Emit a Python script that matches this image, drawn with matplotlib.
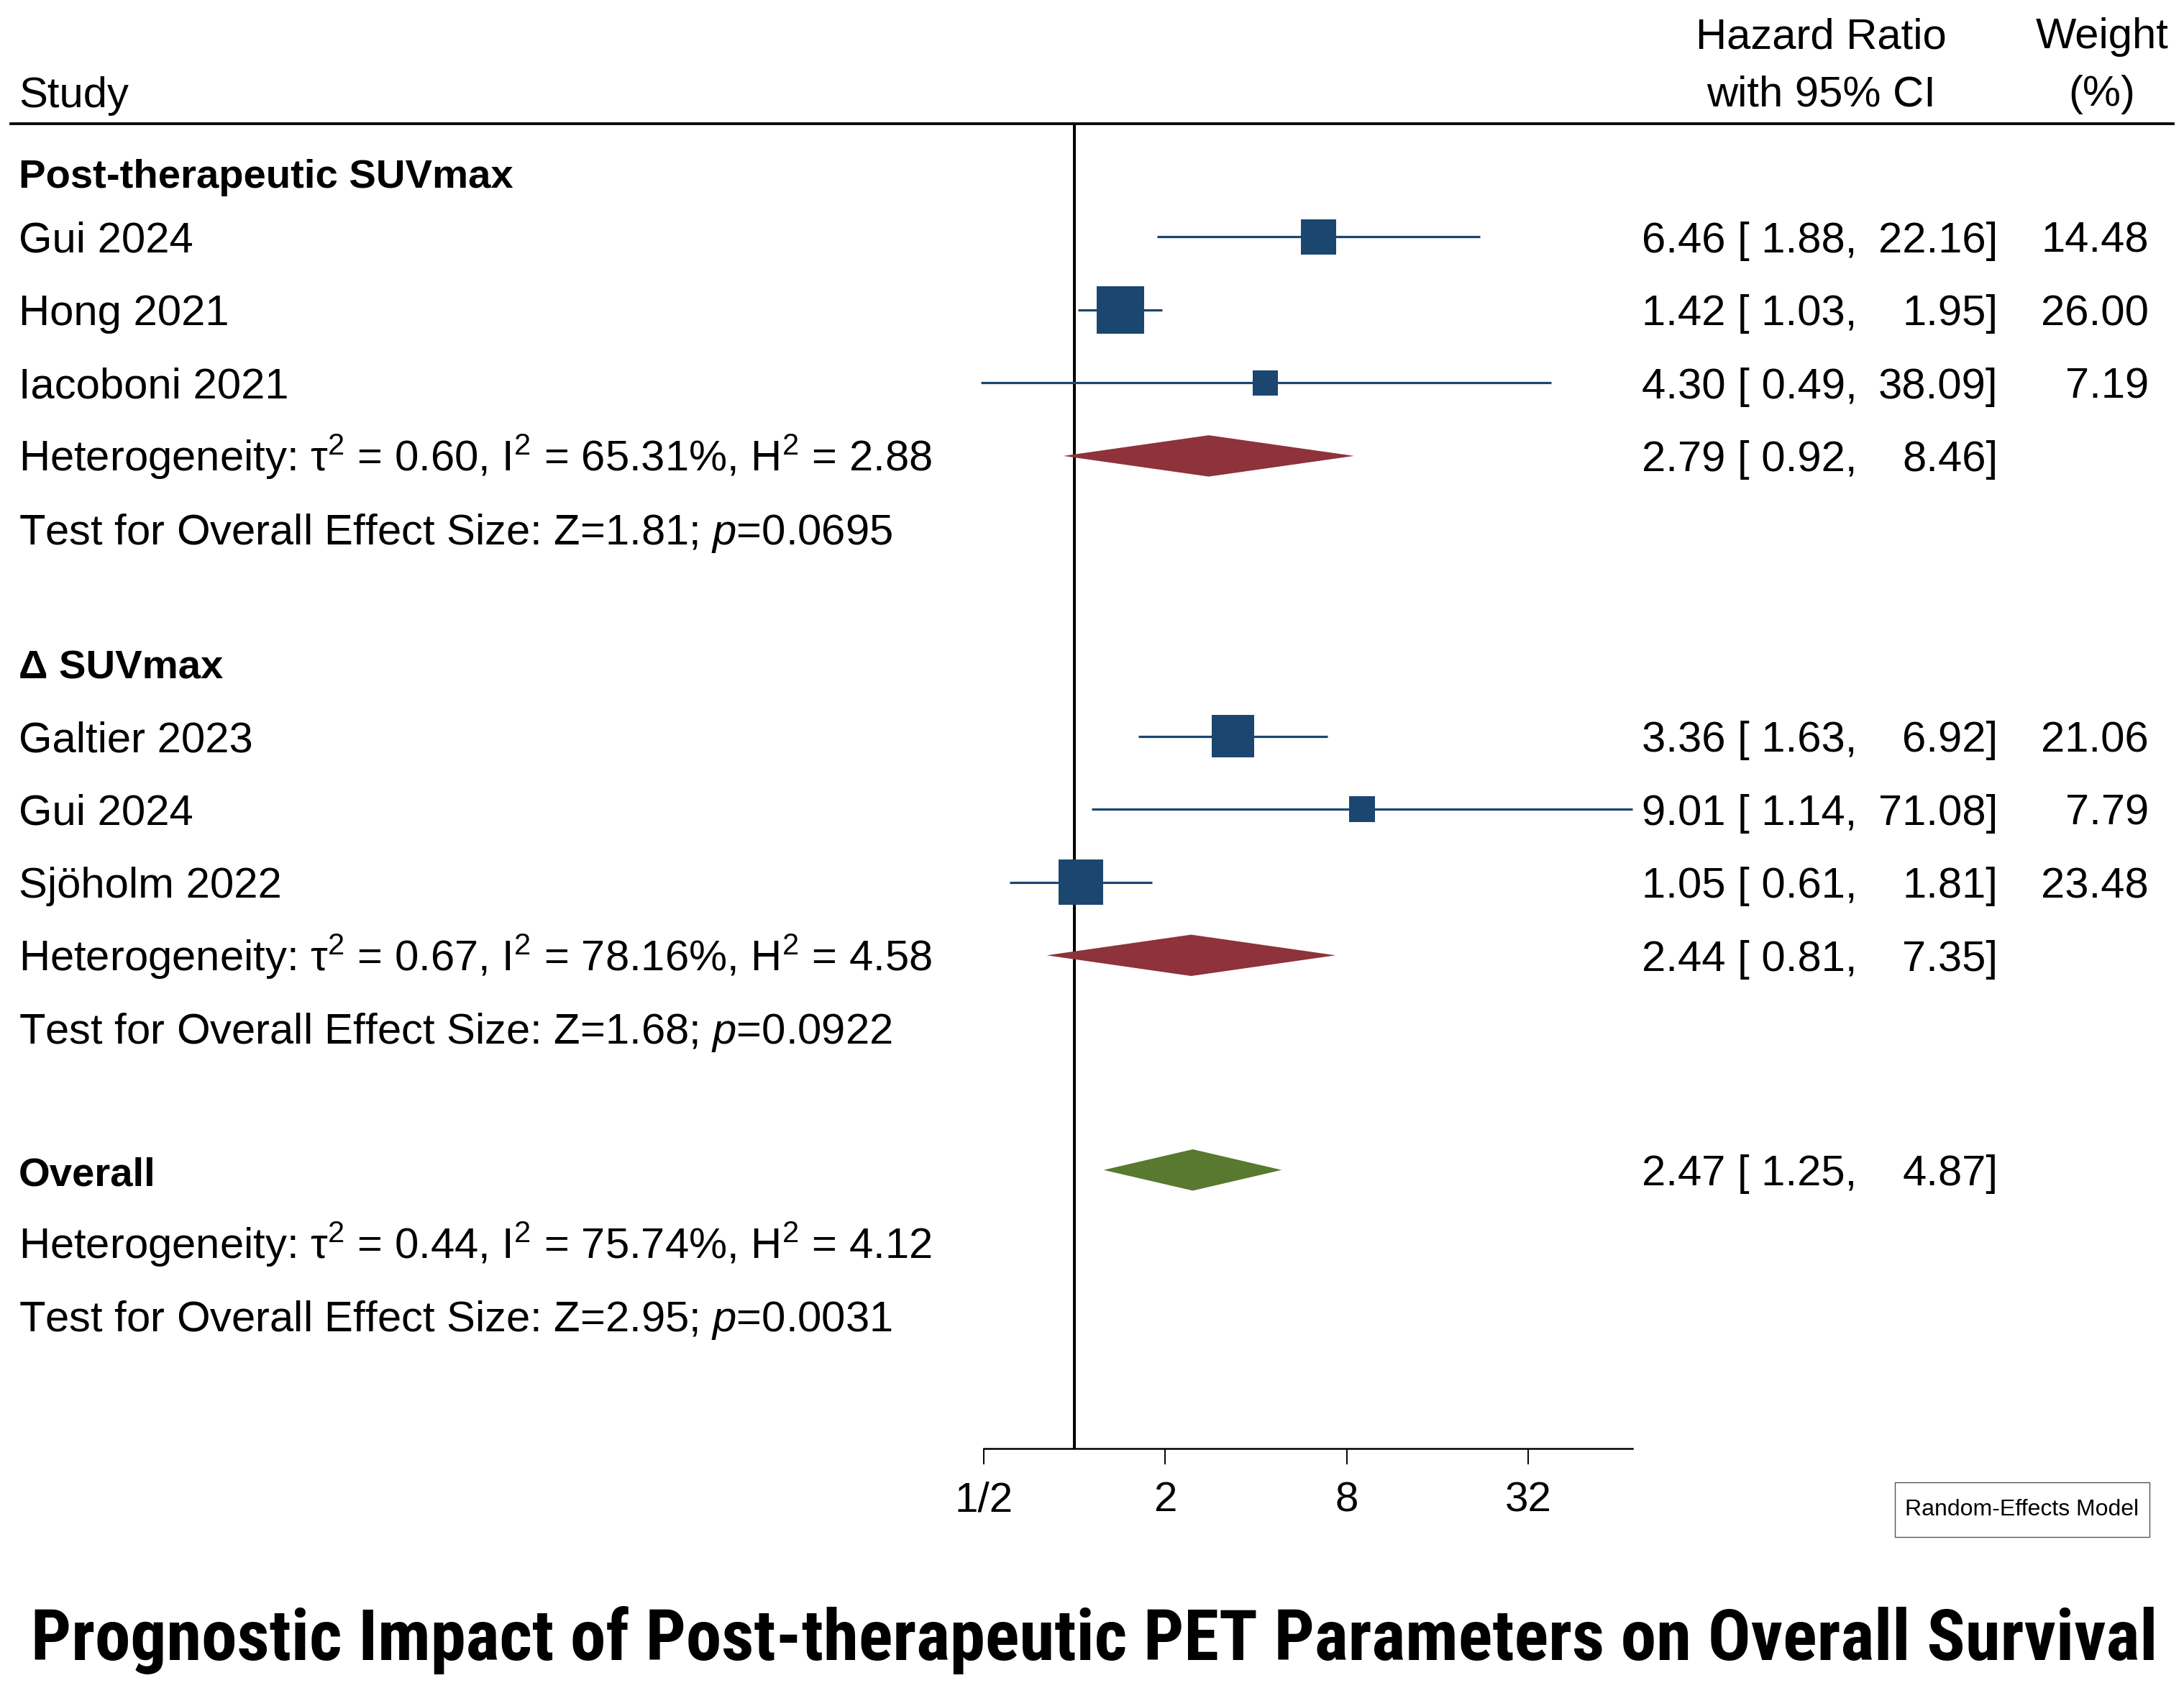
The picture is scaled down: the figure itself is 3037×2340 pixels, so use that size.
import numpy as np
import matplotlib
matplotlib.use("Agg")
import matplotlib.pyplot as plt
import matplotlib.transforms as mtransforms
from matplotlib import font_manager
from matplotlib.patches import Polygon, Rectangle
from matplotlib.lines import Line2D

plt.rcParams["font.family"] = ["Liberation Sans", "DejaVu Sans"]
plt.rcParams["mathtext.fontset"] = "custom"
plt.rcParams["mathtext.rm"] = "Liberation Sans"
plt.rcParams["mathtext.it"] = "Liberation Sans:italic"
plt.rcParams["mathtext.bf"] = "Liberation Sans:bold"
plt.rcParams["mathtext.default"] = "regular"

# Data
group_names = ["Post-therapeutic SUVmax", "Δ SUVmax"]

g1_studies = ["Gui 2024", "Hong 2021", "Iacoboni 2021"]
g1_hr = [6.46, 1.42, 4.30]
g1_lo = [1.88, 1.03, 0.49]
g1_hi = [22.16, 1.95, 38.09]
g1_weight = [14.48, 26.00, 7.19]

g2_studies = ["Galtier 2023", "Gui 2024", "Sjöholm 2022"]
g2_hr = [3.36, 9.01, 1.05]
g2_lo = [1.63, 1.14, 0.61]
g2_hi = [6.92, 71.08, 1.81]
g2_weight = [21.06, 7.79, 23.48]

# subgroup and overall pooled estimates: hr, lo, hi
pooled_hr = [2.79, 2.44, 2.47]
pooled_lo = [0.92, 0.81, 1.25]
pooled_hi = [8.46, 7.35, 4.87]

# heterogeneity stats: tau2, I2, H2, Z, p
het_tau2 = [0.60, 0.67, 0.44]
het_i2 = [65.31, 78.16, 75.74]
het_h2 = [2.88, 4.58, 4.12]
test_z = ["1.81", "1.68", "2.95"]
test_p = ["0.0695", "0.0922", "0.0031"]

tick_vals = [0.5, 2, 8, 32]
tick_labels = ["1/2", "2", "8", "32"]

TITLE = "Prognostic Impact of Post-therapeutic PET Parameters on Overall Survival"

# Layout (row positions, top to bottom)
header_rows = [-0.88, 5.84]
study_rows = [[0, 1, 2], [6.84, 7.84, 8.84]]
het_rows = [3, 9.84, 13.78]
test_rows = [4, 10.84, 14.78]
overall_row = 12.78
diamond_rows = [3, 9.84, 12.78]

SQUARE_COLOR = "#1B4670"
DIAMOND_COLORS = ["#8E323B", "#8E323B", "#58792F"]
FS = 43
FS_BOLD = 40.5
X_LEFT = 0.0085

W, H = 3037, 2340
fig = plt.figure(figsize=(W / 100, H / 100), dpi=100)

ax_left, ax_right = 1367.8 / W, 2270.3 / W
ax_bottom, ax_top = 1 - 2013.5 / H, 1 - 172 / H
ax = fig.add_axes([ax_left, ax_bottom, ax_right - ax_left, ax_top - ax_bottom])
ax.set_xscale("log", base=2)
ax.set_xlim(0.5, max(g2_hi + g1_hi))
ax.set_ylim(16.59, -1.55)

for s in ["top", "right", "left"]:
    ax.spines[s].set_visible(False)
ax.spines["bottom"].set_linewidth(1.8)
ax.set_yticks([])
ax.set_xticks(tick_vals)
ax.set_xticklabels(tick_labels, fontsize=42)
ax.minorticks_off()
ax.tick_params(axis="x", direction="out", length=16, width=1.4, pad=17)

# null line
ax.axvline(1, color="black", lw=2.9, zorder=1)

# study rows
size_k = (66 / 1.389) ** 2 / 26.0
blend = mtransforms.blended_transform_factory(fig.transFigure, ax.transData)
cap_off = 0.21

groups = [
    (g1_studies, g1_hr, g1_lo, g1_hi, g1_weight),
    (g2_studies, g2_hr, g2_lo, g2_hi, g2_weight),
]
for gi, (names, hr, lo, hi, wt) in enumerate(groups):
    rows = study_rows[gi]
    ax.hlines(rows, lo, hi, color=SQUARE_COLOR, lw=2.3, zorder=2, clip_on=False)
    ax.scatter(hr, rows, marker="s", s=[size_k * w for w in wt],
               color=SQUARE_COLOR, linewidths=0, zorder=3, clip_on=False)
    fig.text(X_LEFT, header_rows[gi] + cap_off, group_names[gi], transform=blend,
             fontsize=FS_BOLD, fontweight="bold", va="baseline", ha="left")
    for r, n, h, l, u, w in zip(rows, names, hr, lo, hi, wt):
        fig.text(X_LEFT, r + cap_off, n, transform=blend, fontsize=FS,
                 va="baseline", ha="left")
        fig.text(0.7518, r + cap_off, f"{h:.2f} [ {l:.2f},", transform=blend,
                 fontsize=FS, va="baseline", ha="left")
        fig.text(0.9148, r + cap_off, f"{u:.2f}]", transform=blend,
                 fontsize=FS, va="baseline", ha="right")
        fig.text(0.9838, r + cap_off, f"{w:.2f}", transform=blend,
                 fontsize=FS, va="baseline", ha="right")

# pooled diamonds
dh = 0.283
for k in range(3):
    y = diamond_rows[k]
    l, e, u = pooled_lo[k], pooled_hr[k], pooled_hi[k]
    poly = Polygon([(l, y), (e, y - dh), (u, y), (e, y + dh)], closed=True,
                   facecolor=DIAMOND_COLORS[k], edgecolor="none", zorder=3,
                   clip_on=False)
    ax.add_patch(poly)
    fig.text(0.7518, y + cap_off, f"{e:.2f} [ {l:.2f},", transform=blend,
             fontsize=FS, va="baseline", ha="left")
    fig.text(0.9148, y + cap_off, f"{u:.2f}]", transform=blend,
             fontsize=FS, va="baseline", ha="right")

fig.text(X_LEFT, overall_row + cap_off, "Overall", transform=blend,
         fontsize=FS_BOLD, fontweight="bold", va="baseline", ha="left")

for k in range(3):
    het = (f"Heterogeneity: τ$^{{2}}$ = {het_tau2[k]:.2f}, I$^{{2}}$ = "
           f"{het_i2[k]:.2f}%, H$^{{2}}$ = {het_h2[k]:.2f}")
    fig.text(X_LEFT, het_rows[k] + cap_off, het, transform=blend,
             fontsize=FS, va="baseline", ha="left")
    test = f"Test for Overall Effect Size: Z={test_z[k]}; $\\mathit{{p}}$={test_p[k]}"
    fig.text(X_LEFT, test_rows[k] + cap_off, test, transform=blend,
             fontsize=FS, va="baseline", ha="left")

# column headers
def yb(center_px):
    return 1 - (center_px + 21) / H

fig.text(X_LEFT, yb(128), "Study", fontsize=FS, va="baseline", ha="left")
fig.text(0.834, yb(46), "Hazard Ratio", fontsize=FS, va="baseline", ha="center")
fig.text(0.834, yb(126), "with 95% CI", fontsize=FS, va="baseline", ha="center")
fig.text(0.9625, yb(46), "Weight", fontsize=FS, va="baseline", ha="center")
fig.text(0.9625, yb(126), "(%)", fontsize=FS, va="baseline", ha="center")
fig.add_artist(Line2D([0.005, 0.995], [ax_top, ax_top], transform=fig.transFigure,
                      color="black", lw=2.7))

# model box
fig.add_artist(Rectangle((2635 / W, 1 - 2137 / H), 354 / W, 76 / H,
                         transform=fig.transFigure, facecolor="white",
                         edgecolor="#555555", lw=1.0))
fig.text(2812 / W, 1 - 2099 / H, "Random-Effects Model", fontsize=23,
         va="center", ha="center")

# title: pick the bold narrow face whose width at 72pt is closest to the reference
TITLE_W = 2960
renderer = fig.canvas.get_renderer()
title = fig.text(0.501, 1 - 2308 / H, TITLE, va="baseline", ha="center")
best_font, best_d = None, None
for f in font_manager.fontManager.ttflist:
    nm = f.name.lower()
    if not ("narrow" in nm or "condensed" in nm or "condensed" in str(f.stretch)):
        continue
    if f.weight not in ("bold", 700) or f.style != "normal":
        continue
    fp = font_manager.FontProperties(fname=f.fname, size=72)
    title.set_fontproperties(fp)
    d = abs(title.get_window_extent(renderer).width - TITLE_W)
    if best_d is None or d < best_d:
        best_font, best_d = fp, d
if best_font is None:
    best_font = font_manager.FontProperties(family=["Liberation Sans"], weight="bold", size=72)
title.set_fontproperties(best_font)
tw = title.get_window_extent(renderer).width
title.set_fontsize(72 * TITLE_W / tw)

fig.savefig("out.png", dpi=100, facecolor="white")
